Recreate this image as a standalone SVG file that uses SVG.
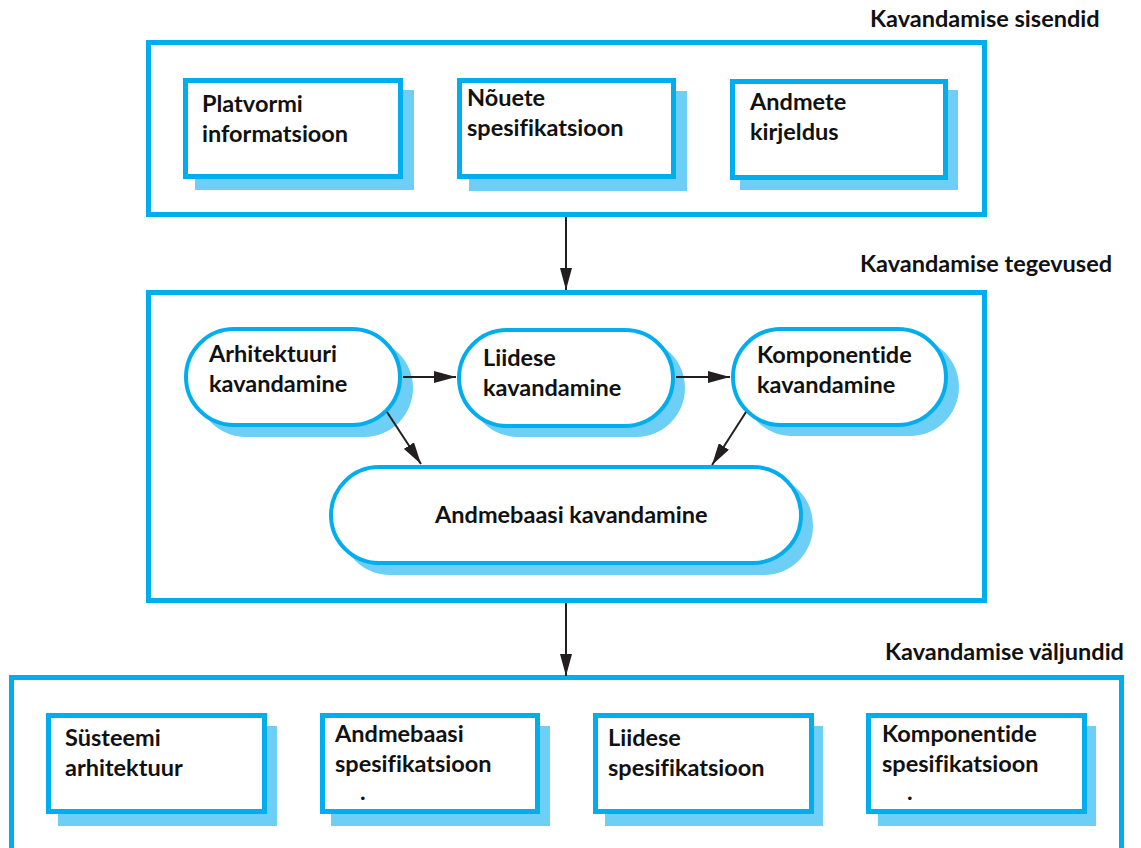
<svg xmlns="http://www.w3.org/2000/svg" width="1141" height="848" viewBox="0 0 1141 848">
<defs>
<style>
.cont{fill:none;stroke:#00aeef;stroke-width:5}
.box{fill:#fff;stroke:#00aeef;stroke-width:5}
.shadow{fill:#6dcff6}
.stad{fill:#fff;stroke:#00aeef;stroke-width:4}
.t{font-family:Lato,"Open Sans","Liberation Sans",sans-serif;font-weight:bold;font-size:23.5px;fill:#111;font-variant-ligatures:none}
.conn{stroke:#231f20;stroke-width:2;fill:none;marker-end:url(#ah)}
</style>
<marker id="ah" markerUnits="userSpaceOnUse" markerWidth="22" markerHeight="12" refX="22" refY="6" orient="auto">
<path d="M0,0 L22,6 L0,12 z" fill="#231f20"/>
</marker>
</defs>
<rect width="1141" height="848" fill="#fff"/>

<g id="inputs">
<rect class="cont" x="148.5" y="42.5" width="836" height="172"/>
<text class="t" x="870" y="27">Kavandamise sisendid</text>
</g>
<g id="platvormi">
<rect class="shadow" x="195" y="90" width="219" height="100"/>
<rect class="box" x="185.5" y="80.5" width="215" height="96"/>
<text class="t" x="202" y="112">Platvormi</text>
<text class="t" x="202" y="142">informatsioon</text>
</g>
<g id="nouete">
<rect class="shadow" x="469" y="91" width="218" height="100"/>
<rect class="box" x="459.5" y="80.5" width="214" height="96"/>
<text class="t" x="467" y="106">Nõuete</text>
<text class="t" x="467" y="136">spesifikatsioon</text>
</g>
<g id="andmete">
<rect class="shadow" x="740" y="90" width="218" height="100"/>
<rect class="box" x="732.5" y="81.5" width="213" height="96"/>
<text class="t" x="750" y="110">Andmete</text>
<text class="t" x="750" y="140">kirjeldus</text>
</g>

<g id="activities">
<rect class="cont" x="148.5" y="292.5" width="836" height="308"/>
<text class="t" x="860" y="272">Kavandamise tegevused</text>
</g>
<g id="arhitektuuri">
<rect class="shadow" x="197" y="339" width="216" height="98" rx="49"/>
<rect class="stad" x="186" y="329" width="214" height="96" rx="48"/>
<text class="t" x="209" y="362">Arhitektuuri</text>
<text class="t" x="209" y="392">kavandamine</text>
</g>
<g id="liidese">
<rect class="shadow" x="469" y="339" width="216" height="98" rx="49"/>
<rect class="stad" x="459" y="330" width="214" height="96" rx="48"/>
<text class="t" x="483" y="366">Liidese</text>
<text class="t" x="483" y="396">kavandamine</text>
</g>
<g id="komponentide">
<rect class="shadow" x="743" y="338" width="216" height="98" rx="49"/>
<rect class="stad" x="733" y="329" width="213" height="96" rx="48"/>
<text class="t" x="757" y="363">Komponentide</text>
<text class="t" x="757" y="393">kavandamine</text>
</g>
<g id="andmebaasi">
<rect class="shadow" x="341" y="476" width="472" height="99" rx="49"/>
<rect class="stad" x="331" y="467" width="470" height="96" rx="48"/>
<text class="t" x="435" y="523">Andmebaasi kavandamine</text>
</g>

<g id="outputs">
<rect class="cont" x="11.5" y="677.5" width="1110" height="200"/>
<text class="t" x="885" y="660">Kavandamise väljundid</text>
</g>
<g id="systeemi">
<rect class="shadow" x="58" y="726" width="219" height="100"/>
<rect class="box" x="48.5" y="715.5" width="216" height="96"/>
<text class="t" x="65" y="746">Süsteemi</text>
<text class="t" x="65" y="776">arhitektuur</text>
</g>
<g id="andmebaasi-spec">
<rect class="shadow" x="331" y="726" width="219" height="100"/>
<rect class="box" x="322.5" y="715.5" width="215" height="96"/>
<text class="t" x="335" y="742">Andmebaasi</text>
<text class="t" x="335" y="772">spesifikatsioon</text>
<text class="t" x="360" y="800">.</text>
</g>
<g id="liidese-spec">
<rect class="shadow" x="605" y="726" width="218" height="100"/>
<rect class="box" x="595.5" y="715.5" width="216" height="96"/>
<text class="t" x="608" y="746">Liidese</text>
<text class="t" x="608" y="776">spesifikatsioon</text>
</g>
<g id="komponentide-spec">
<rect class="shadow" x="878" y="726" width="218" height="100"/>
<rect class="box" x="868.5" y="715.5" width="216" height="96"/>
<text class="t" x="882" y="742">Komponentide</text>
<text class="t" x="882" y="772">spesifikatsioon</text>
<text class="t" x="907" y="800">.</text>
</g>

<g id="connectors">
<line class="conn" x1="566" y1="217" x2="566" y2="290"/>
<line class="conn" x1="403" y1="377" x2="456" y2="377"/>
<line class="conn" x1="676" y1="377" x2="730" y2="377"/>
<line class="conn" x1="387" y1="412" x2="421" y2="464"/>
<line class="conn" x1="746" y1="412" x2="712" y2="465"/>
<line class="conn" x1="566" y1="603" x2="566" y2="676"/>
</g>
</svg>
